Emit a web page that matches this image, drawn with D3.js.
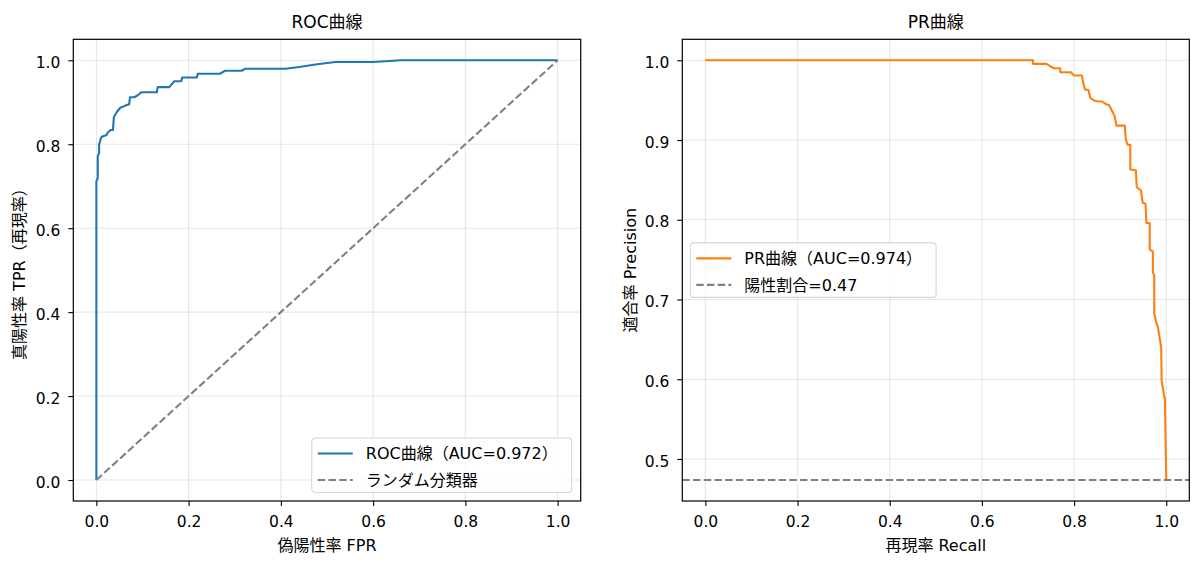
<!DOCTYPE html>
<html>
<head>
<meta charset="utf-8">
<script src="https://cdn.jsdelivr.net/npm/d3@7"></script>
<style>
  body { margin: 0; background: #fff; }
  text { font-family: "DejaVu Sans", "Noto Sans CJK JP", sans-serif; fill: #000; }
</style>
</head>
<body>
<svg id="chart" width="1200" height="565"></svg>
<script>
// ROC curve points (fpr / tpr)
var rocFpr = [0, 0, 0.003, 0.003, 0.006, 0.006, 0.010, 0.012, 0.022, 0.025, 0.031, 0.036, 0.038, 0.045, 0.052, 0.063,
  0.071, 0.073, 0.082, 0.089, 0.098, 0.131, 0.133, 0.158, 0.169, 0.184, 0.186, 0.218, 0.220, 0.268, 0.279,
  0.315, 0.323, 0.410, 0.440, 0.475, 0.518, 0.600, 0.660, 1.0];
var rocTpr = [0, 0.711, 0.720, 0.771, 0.780, 0.800, 0.815, 0.818, 0.822, 0.828, 0.834, 0.834, 0.865, 0.878, 0.887, 0.892,
  0.895, 0.912, 0.912, 0.916, 0.924, 0.924, 0.936, 0.936, 0.950, 0.950, 0.959, 0.959, 0.968, 0.968, 0.975,
  0.975, 0.980, 0.980, 0.984, 0.990, 0.996, 0.996, 1.0, 1.0];

// PR curve points (recall / precision)
var prRecall = [0, 0.711, 0.711, 0.740, 0.756, 0.770, 0.770, 0.793, 0.800, 0.817, 0.820, 0.824, 0.831, 0.835, 0.845,
  0.862, 0.869, 0.876, 0.881, 0.888, 0.892, 0.910, 0.912, 0.916, 0.922, 0.922, 0.934, 0.936, 0.945, 0.949,
  0.955, 0.957, 0.964, 0.964, 0.971, 0.971, 0.974, 0.974, 0.978, 0.982, 0.989, 0.990, 0.996, 0.997, 1.0];
var prPrecision = [1.0, 1.0, 0.9955, 0.9955, 0.990, 0.990, 0.985, 0.985, 0.981, 0.981, 0.971, 0.963, 0.963, 0.953, 0.949,
  0.948, 0.945, 0.944, 0.938, 0.930, 0.918, 0.918, 0.902, 0.894, 0.894, 0.863, 0.862, 0.841, 0.837, 0.821,
  0.820, 0.796, 0.796, 0.763, 0.760, 0.734, 0.730, 0.682, 0.672, 0.665, 0.640, 0.598, 0.577, 0.577, 0.4736];

var positiveRate = 0.4736;
var diagX = [0, 1], diagY = [0, 1];

var rocTicks = [0, 0.2, 0.4, 0.6, 0.8, 1.0];
var prXTicks = [0, 0.2, 0.4, 0.6, 0.8, 1.0];
var prYTicks = [0.5, 0.6, 0.7, 0.8, 0.9, 1.0];

var rocTitle = 'ROC曲線', prTitle = 'PR曲線';
var rocLegend = ['ROC曲線（AUC=0.972）', 'ランダム分類器'];
var prLegend = ['PR曲線（AUC=0.974）', '陽性割合=0.47'];

var blue = '#1f77b4', orange = '#ff7f0e', gray = '#808080';
var svg = d3.select('#chart');
var fmt = d3.format('.1f');
var fs = '15.5px';     // ticks
var lfs = '16px';      // labels + legend

function zip(a, b) {
  return a.map(function(v, i) { return [v, b[i]]; });
}

// one subplot
function drawPanel(o) {
  var x = d3.scaleLinear().domain(o.xDomain).range([o.left, o.right]);
  var y = d3.scaleLinear().domain(o.yDomain).range([o.bottom, o.top]);
  var g = svg.append('g');

  // grid
  g.selectAll('.gx').data(o.xTicks).enter().append('line')
    .attr('x1', function(d) { return x(d); }).attr('x2', function(d) { return x(d); })
    .attr('y1', o.top).attr('y2', o.bottom)
    .attr('stroke', '#b0b0b0').attr('stroke-opacity', 0.3).attr('stroke-width', 1.1);
  g.selectAll('.gy').data(o.yTicks).enter().append('line')
    .attr('y1', function(d) { return y(d); }).attr('y2', function(d) { return y(d); })
    .attr('x1', o.left).attr('x2', o.right)
    .attr('stroke', '#b0b0b0').attr('stroke-opacity', 0.3).attr('stroke-width', 1.1);

  var line = d3.line().x(function(d) { return x(d[0]); }).y(function(d) { return y(d[1]); });

  o.series.forEach(function(s) {
    g.append('path').datum(s.points)
      .attr('d', line)
      .attr('fill', 'none')
      .attr('stroke', s.color)
      .attr('stroke-width', 2.1)
      .attr('stroke-linejoin', 'round')
      .attr('stroke-dasharray', s.dashed ? '7.5,3.2' : null);
  });

  if (o.hline != null) {
    g.append('line')
      .attr('x1', o.left).attr('x2', o.right)
      .attr('y1', y(o.hline)).attr('y2', y(o.hline))
      .attr('stroke', gray).attr('stroke-width', 2.1).attr('stroke-dasharray', '7.5,3.2');
  }

  // frame
  g.append('rect')
    .attr('x', o.left).attr('y', o.top)
    .attr('width', o.right - o.left).attr('height', o.bottom - o.top)
    .attr('fill', 'none').attr('stroke', '#000').attr('stroke-width', 1.2);

  // axes
  var xa = g.append('g').attr('transform', 'translate(0,' + o.bottom + ')')
    .call(d3.axisBottom(x).tickValues(o.xTicks).tickFormat(fmt).tickSize(5).tickSizeOuter(0));
  xa.select('.domain').remove();
  xa.selectAll('.tick line').attr('stroke-width', 1.1);
  xa.selectAll('text').attr('dy', null).attr('y', 26).style('font-size', fs)
    .style('font-family', '"DejaVu Sans", sans-serif');

  var ya = g.append('g').attr('transform', 'translate(' + o.left + ',0)')
    .call(d3.axisLeft(y).tickValues(o.yTicks).tickFormat(fmt).tickSize(5).tickSizeOuter(0));
  ya.select('.domain').remove();
  ya.selectAll('.tick line').attr('stroke-width', 1.1);
  ya.selectAll('text').attr('x', -13).attr('dy', '0.46em').style('font-size', fs)
    .style('font-family', '"DejaVu Sans", sans-serif');

  var cx = (o.left + o.right) / 2, cy = (o.top + o.bottom) / 2;
  g.append('text').attr('x', cx).attr('y', 28).attr('text-anchor', 'middle')
    .style('font-size', '17px').text(o.title);
  g.append('text').attr('x', cx).attr('y', 551).attr('text-anchor', 'middle')
    .style('font-size', lfs).text(o.xLabel);
  g.append('text').attr('transform', 'translate(' + o.yLabelX + ',' + cy + ') rotate(-90)')
    .attr('text-anchor', 'middle').style('font-size', lfs).text(o.yLabel);

  // legend
  var lg = g.append('g');
  var box = lg.append('rect').attr('rx', 3.5).attr('ry', 3.5)
    .attr('fill', '#fff').attr('fill-opacity', 0.8)
    .attr('stroke', '#d5d5d5').attr('stroke-width', 1.1);
  var widest = 0;
  o.legend.forEach(function(item, i) {
    var ry = 15.5 + i * 26.5;
    lg.append('line').attr('x1', 6).attr('x2', 41).attr('y1', ry).attr('y2', ry)
      .attr('stroke', item.color).attr('stroke-width', 2.1)
      .attr('stroke-dasharray', item.dashed ? '7.5,3.2' : null);
    var t = lg.append('text').attr('x', 54).attr('y', ry + 5.7)
      .style('font-size', lfs).text(item.label);
    widest = Math.max(widest, t.node().getComputedTextLength());
  });
  var bw = 54 + widest + 14, bh = 54.5;
  box.attr('width', bw).attr('height', bh);
  var lx, ly;
  if (o.legendPos == 'lower right') {
    lx = o.right - 9 - bw; ly = o.bottom - 8.5 - bh;
  } else {
    lx = o.left + 8; ly = cy - bh / 2;
  }
  lg.attr('transform', 'translate(' + lx + ',' + ly + ')');
}

drawPanel({
  left: 73.3, right: 580.7, top: 39.3, bottom: 501,
  xDomain: [-0.05, 1.05], yDomain: [-0.05, 1.05],
  xTicks: rocTicks, yTicks: rocTicks,
  series: [
    { points: zip(rocFpr, rocTpr), color: blue },
    { points: zip(diagX, diagY), color: gray, dashed: true }
  ],
  title: rocTitle, xLabel: '偽陽性率 FPR', yLabel: '真陽性率 TPR（再現率）', yLabelX: 25,
  legend: [
    { label: rocLegend[0], color: blue },
    { label: rocLegend[1], color: gray, dashed: true }
  ],
  legendPos: 'lower right'
});

// PR y range follows matplotlib's 5% margin around [positiveRate, 1]
var prSpan = 1 - positiveRate;
drawPanel({
  left: 682.3, right: 1189.3, top: 39.3, bottom: 501,
  xDomain: [-0.05, 1.05], yDomain: [positiveRate - 0.05 * prSpan, 1 + 0.05 * prSpan],
  xTicks: prXTicks, yTicks: prYTicks,
  series: [
    { points: zip(prRecall, prPrecision), color: orange }
  ],
  hline: positiveRate,
  title: prTitle, xLabel: '再現率 Recall', yLabel: '適合率 Precision', yLabelX: 636,
  legend: [
    { label: prLegend[0], color: orange },
    { label: prLegend[1], color: gray, dashed: true }
  ],
  legendPos: 'center left'
});
</script>
</body>
</html>
